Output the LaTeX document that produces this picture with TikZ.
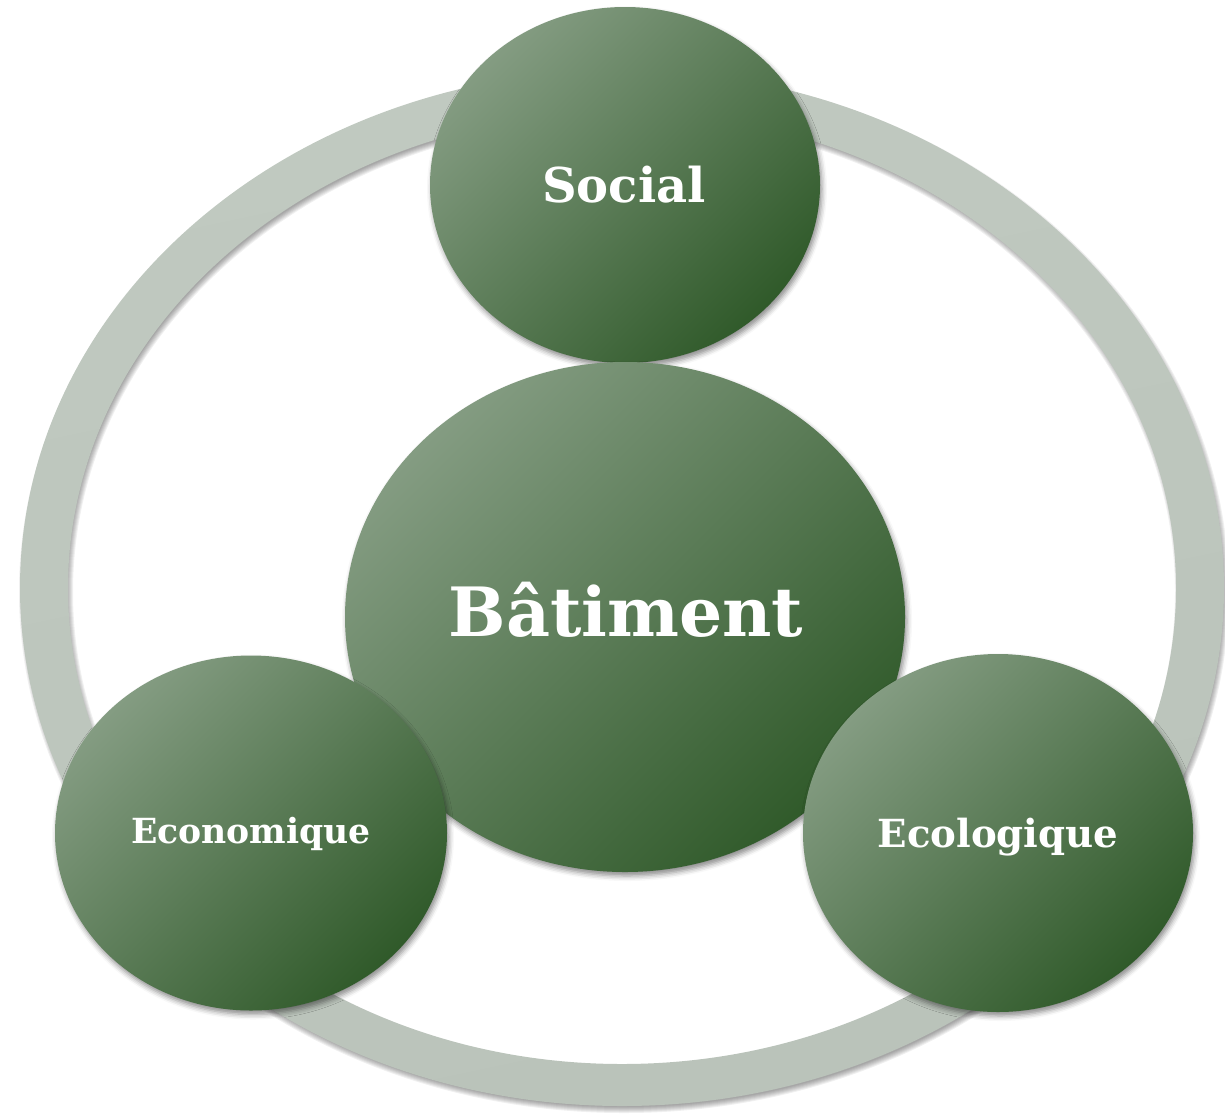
\documentclass[tikz,border=0pt]{standalone}
\usepackage{fontspec}
\setmainfont{DejaVu Serif}
\usetikzlibrary{shapes.geometric,shadows.blur}
\definecolor{gLight}{RGB}{132,156,130}
\definecolor{gDark}{RGB}{48,90,42}
\definecolor{rLight}{RGB}{192,201,192}
\definecolor{rMid}{RGB}{163,172,163}
\definecolor{rLow}{RGB}{186,195,186}
\tikzset{
  softshadow/.style={blur shadow={shadow xshift=2pt, shadow yshift=-4pt, shadow blur radius=5pt, shadow opacity=45}},
  bubble/.style={ellipse, inner sep=0pt, top color=gLight, bottom color=gDark, shading angle=45, softshadow},
  lbl/.style={text=white, anchor=base, inner sep=0pt},
  ringshadow/.style={black, opacity=0.06, even odd rule}
}
\begin{document}
\begin{tikzpicture}[x=1pt,y=-1pt]
\useasboundingbox (0,0) rectangle (1225,1117);
% ring shadow (manual soft shadow)
\foreach \k in {-3,-2,-1,0,1,2,3}{
  \fill[ringshadow] (624,592) ellipse [x radius=602+\k, y radius=518+\k]
                    (624,592) ellipse [x radius=554-\k, y radius=476-\k];
}
% ring
\path[even odd rule, top color=rLight, middle color=rMid, bottom color=rLow, shading angle=12]
  (622,588) ellipse [x radius=602, y radius=518]
  (622,588) ellipse [x radius=554, y radius=476];
% bubbles
\node[bubble, minimum width=390pt, minimum height=356pt] (social) at (625,185) {};
\node[bubble, minimum width=560pt, minimum height=510pt] (bat) at (625,617) {};
\node[bubble, minimum width=392pt, minimum height=355pt] (eco) at (251,833) {};
\node[bubble, minimum width=390pt, minimum height=358pt] (ecol) at (998,833) {};
% labels
\node[lbl, font=\bfseries\fontsize{48}{52}\selectfont] (socialT) at (624,202) {Social};
\node[lbl, font=\bfseries\fontsize{68}{72}\selectfont] (batT) at (626,636) {Bâtiment};
\node[lbl, font=\bfseries\fontsize{34.6}{38}\selectfont] (ecoT) at (251,843) {Economique};
\node[lbl, font=\bfseries\fontsize{38.7}{42}\selectfont] (ecolT) at (998,847) {Ecologique};
\end{tikzpicture}
\end{document}
